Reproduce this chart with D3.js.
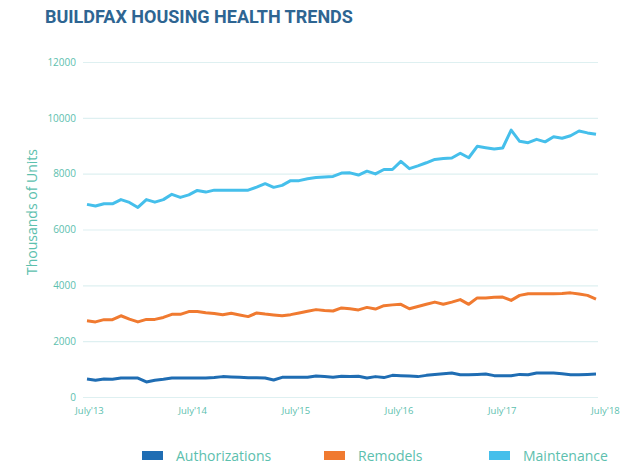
<!DOCTYPE html>
<html><head><meta charset="utf-8">
<script src="https://cdn.jsdelivr.net/npm/d3@7"></script>
<style>body{margin:0;background:#fff}svg{display:block}</style>
</head><body>
<script>
const tickLabels = ["July'13","July'14","July'15","July'16","July'17","July'18"];
const yTicks = [0,2000,4000,6000,8000,10000,12000];
const seriesNames = ["Authorizations","Remodels","Maintenance"];
const authorizations = [645,600,645,635,680,680,680,540,600,635,680,680,680,680,680,700,730,715,705,690,690,680,610,705,705,705,705,750,730,705,740,730,740,680,730,695,775,765,750,730,775,810,835,860,800,800,810,825,765,765,765,810,800,860,860,860,835,800,800,810,825];
const remodels = [2730,2690,2770,2770,2910,2790,2690,2780,2780,2850,2960,2960,3060,3060,3020,2990,2950,3000,2940,2880,3010,2970,2940,2910,2950,3010,3070,3130,3100,3080,3190,3160,3120,3210,3150,3270,3300,3320,3160,3240,3320,3400,3320,3400,3490,3320,3550,3550,3570,3580,3460,3640,3700,3700,3700,3700,3710,3730,3690,3640,3510];
const maintenance = [6900,6840,6920,6920,7070,6970,6790,7070,6980,7070,7260,7150,7240,7400,7340,7410,7410,7410,7410,7410,7520,7640,7510,7580,7750,7750,7820,7860,7880,7900,8020,8030,7950,8090,7990,8150,8150,8440,8180,8280,8390,8510,8540,8560,8730,8570,8980,8930,8880,8920,9560,9160,9110,9230,9140,9320,9270,9360,9530,9460,9410];
const colors = ["#1f6db3","#f07a30","#45bfeb"];
const teal = "#5cc0ae";

const W=639,H=474;
const svg = d3.select("body").append("svg").attr("width",W).attr("height",H);

svg.append("text").attr("x",45).attr("y",23)
  .attr("font-family","Roboto, sans-serif").attr("font-weight","bold").attr("font-size",18)
  .attr("fill","#2e6592").text("BUILDFAX HOUSING HEALTH TRENDS");

const x = d3.scaleLinear().domain([0,60]).range([87,596]);
const xLab = d3.scaleLinear().domain([0,5]).range([89,605]);
const y = d3.scaleLinear().domain([0,12000]).range([397,62]);

const yAxis = d3.axisLeft(y).tickValues(yTicks).tickSize(-(598-83)).tickPadding(7).tickFormat(d3.format("d"));
const gy = svg.append("g").attr("transform","translate(83,0)").call(yAxis);
gy.select(".domain").remove();
gy.selectAll(".tick line").attr("stroke","#def0f1").attr("stroke-width",1.2);
gy.selectAll(".tick text").attr("fill",teal).attr("font-family","'Open Sans', sans-serif").attr("font-size",10);

const xAxis = d3.axisBottom(xLab).tickValues(d3.range(6)).tickSize(0).tickPadding(0).tickFormat(i=>tickLabels[i]);
const gx = svg.append("g").attr("transform","translate(0,407)").call(xAxis);
gx.select(".domain").remove();
gx.selectAll(".tick text").attr("fill",teal).attr("font-family","'Open Sans', sans-serif").attr("font-size",9.5);

svg.append("text").attr("transform","translate(37,212) rotate(-90)").attr("text-anchor","middle")
  .attr("fill",teal).attr("font-family","'Open Sans', sans-serif").attr("font-size",14).text("Thousands of Units");

const line = d3.line().x((d,i)=>x(i)).y(d=>y(d));
[authorizations,remodels,maintenance].forEach((s,k)=>{
  svg.append("path").datum(s).attr("d",line).attr("fill","none")
    .attr("stroke",colors[k]).attr("stroke-width",3).attr("stroke-linejoin","round");
});

const legX = [142,324,489];
seriesNames.forEach((n,k)=>{
  svg.append("rect").attr("x",legX[k]).attr("y",451).attr("width",21).attr("height",9).attr("fill",colors[k]);
  svg.append("text").attr("x",legX[k]+34).attr("y",460.5).attr("fill",teal)
    .attr("font-family","'Open Sans', sans-serif").attr("font-size",14).text(n);
});
</script>
</body></html>
